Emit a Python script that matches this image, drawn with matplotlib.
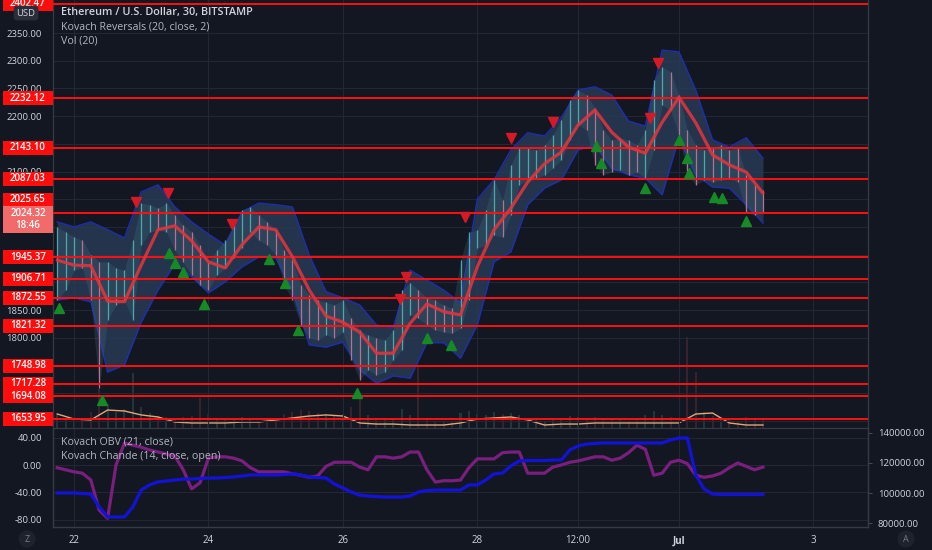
import numpy as np
import pandas as pd
import matplotlib.pyplot as plt
from matplotlib.patches import Rectangle
from matplotlib.transforms import blended_transform_factory

plt.rcParams['font.family'] = ['Open Sans', 'DejaVu Sans']

BG = '#131722'
GRID = '#232733'
TXT = '#d1d4dc'

# ETH/USD, Bitstamp, 3-hour highs / lows
bar_times = pd.date_range('2021-06-21 18:00', periods=85, freq='3h')
bar_high = np.array([
    2000, 1991, 1982, 1976, 1950, 1937, 1937, 1926, 1922, 1976,
    2043, 2040, 2034, 2043, 2021, 2003, 1991, 1967, 1936, 1958,
    1976, 2003, 2031, 2036, 2021, 2009, 1994, 1958, 1940, 1895,
    1877, 1868, 1864, 1859, 1868, 1835, 1814, 1805, 1800, 1796,
    1814, 1886, 1899, 1886, 1872, 1868, 1859, 1853, 1940, 1991,
    1994, 2031, 2085, 2049, 2112, 2142, 2142, 2139, 2148, 2166,
    2193, 2229, 2247, 2238, 2215, 2175, 2157, 2160, 2157, 2148,
    2175, 2265, 2289, 2280, 2238, 2175, 2148, 2139, 2142, 2148,
    2139, 2142, 2094, 2076, 2067])
bar_low = np.array([
    1868, 1886, 1922, 1926, 1868, 1709, 1832, 1859, 1868, 1832,
    1967, 1991, 1994, 1991, 1958, 1936, 1913, 1895, 1886, 1913,
    1926, 1944, 1962, 1991, 1976, 1967, 1950, 1895, 1868, 1823,
    1800, 1796, 1805, 1800, 1810, 1760, 1724, 1742, 1733, 1738,
    1760, 1778, 1841, 1835, 1823, 1814, 1810, 1808, 1817, 1868,
    1962, 1967, 1985, 1982, 2021, 2076, 2085, 2088, 2094, 2106,
    2121, 2157, 2184, 2175, 2112, 2094, 2099, 2103, 2094, 2099,
    2088, 2139, 2220, 2211, 2166, 2094, 2076, 2085, 2081, 2085,
    2088, 2081, 2027, 2021, 2027])
volume = np.array([
    1200, 900, 800, 900, 1500, 3600, 2200, 1500, 1800, 5100,
    2000, 1400, 1100, 1000, 900, 1000, 1100, 2800, 1300, 900,
    800, 900, 1000, 800, 700, 800, 900, 1300, 1500, 1700,
    1600, 1400, 1300, 1200, 1300, 2000, 3100, 1200, 900, 800,
    900, 1800, 1200, 5900, 900, 700, 600, 700, 1400, 1600,
    1300, 1200, 1500, 1300, 1400, 1200, 900, 800, 700, 800,
    900, 1100, 1000, 900, 1000, 900, 800, 800, 700, 800,
    1200, 1600, 1200, 1000, 900, 8500, 5200, 1500, 1100, 900,
    800, 700, 1000, 900, 800])

# Kovach Reversals band and average, volume MA (6-hour samples)
ind_times = pd.date_range('2021-06-21 18:00', periods=43, freq='6h')
rev_ma = [1940, 1931, 1930, 1866, 1865, 1931, 1995, 2002, 1975, 1937,
          1926, 1968, 2000, 1995, 1946, 1886, 1839, 1828, 1810, 1772,
          1772, 1826, 1861, 1847, 1841, 1928, 1995, 2034, 2081, 2114,
          2135, 2184, 2211, 2171, 2144, 2133, 2189, 2234, 2188, 2130,
          2112, 2099, 2061]
band_up = [2009, 2000, 2009, 1995, 1980, 2063, 2076, 2036, 2009, 1987,
           1967, 2027, 2043, 2040, 2036, 1949, 1883, 1872, 1859, 1823,
           1818, 1922, 1904, 1886, 1863, 2050, 2085, 2139, 2170, 2164,
           2197, 2247, 2253, 2238, 2191, 2182, 2319, 2316, 2247, 2157,
           2144, 2161, 2124]
band_lo = [1868, 1872, 1865, 1738, 1751, 1828, 1886, 1933, 1910, 1881,
           1901, 1928, 1946, 1944, 1886, 1787, 1783, 1792, 1742, 1718,
           1731, 1727, 1791, 1791, 1763, 1823, 1937, 1955, 2040, 2070,
           2085, 2139, 2148, 2106, 2094, 2088, 2058, 2161, 2094, 2072,
           2070, 2040, 2007]
vol_ma = [1310, 840, 750, 1680, 1590, 1220, 1030, 560, 470, 470,
          470, 560, 560, 750, 940, 1120, 1220, 1120, 470, 370,
          370, 280, 280, 280, 470, 840, 940, 1030, 750, 280,
          370, 370, 470, 470, 470, 470, 470, 470, 1310, 1400,
          470, 280, 280]

# reversal signals
sell_times = pd.to_datetime(['2021-06-22 22:00', '2021-06-23 09:30', '2021-06-24 08:30',
                             '2021-06-26 20:30', '2021-06-26 22:30', '2021-06-27 19:30',
                             '2021-06-28 12:00', '2021-06-29 03:00', '2021-06-30 13:30',
                             '2021-06-30 16:30'])
sell_price = [2045, 2061, 2005, 1870, 1910, 2018, 2161, 2189, 2197, 2296]
buy_times = pd.to_datetime(['2021-06-21 18:30', '2021-06-22 10:00', '2021-06-23 10:00',
                            '2021-06-23 12:00', '2021-06-23 15:00', '2021-06-23 22:30',
                            '2021-06-24 21:30', '2021-06-25 03:30', '2021-06-25 08:00',
                            '2021-06-26 05:00', '2021-06-27 06:00', '2021-06-27 14:30',
                            '2021-06-29 18:30', '2021-06-29 20:00', '2021-06-30 12:00',
                            '2021-07-01 00:00', '2021-07-01 03:00', '2021-07-01 03:30',
                            '2021-07-01 12:30', '2021-07-01 15:30', '2021-07-02 00:00'])
buy_price = [1854, 1688, 1953, 1935, 1919, 1861, 1942, 1899, 1814, 1700, 1800, 1787,
             2146, 2115, 2070, 2157, 2124, 2097, 2054, 2052, 2011]

levels = [2402.47, 2232.12, 2143.10, 2087.03, 2025.65, 1945.37, 1906.71,
          1872.55, 1821.32, 1748.98, 1717.28, 1694.08, 1653.95]
last_price = 2024.32
countdown = '18:46'

# price scale ticks; the ones hidden behind level labels carry no text
price_ticks = [1650, 1700, 1750, 1800, 1850, 1900, 1950, 2000,
               2050, 2100, 2150, 2200, 2250, 2300, 2350]
price_tick_labels = ['', '', '', '1800.00', '1850.00', '', '', '',
                     '', '2100.00', '', '2200.00', '2250.00', '2300.00', '2350.00']

# lower pane, 3-hour samples
chande = [-4, -7, -10, -12, -22, -66, -78, 0, 32, 29,
          26, 22, 19, 16, 13, -7, -35, -26, 10, 12,
          12, 10, 6, -4, -10, -10, -10, -10, -13, -15,
          -18, -16, -2, 4, 4, 4, -3, -7, 12, 12,
          10, 12, 19, 19, -7, -25, -23, -23, -22, -4,
          9, 9, 9, 18, 19, 19, -12, -12, -12, -3,
          0, 4, 6, 9, 12, 12, 7, 10, 18, 29,
          23, -15, -12, 4, 7, 2, -15, -18, -16, -12,
          -4, 3, -2, -7, -3]
obv = [100100, 100100, 100100, 99700, 99400, 90800, 84200, 84200, 84200, 90800,
       102000, 105400, 107400, 108000, 108700, 109300, 109300, 109700, 110000, 110000,
       110300, 110700, 111300, 112000, 112000, 112000, 112000, 112300, 112700, 112000,
       110700, 110300, 110000, 106000, 103400, 100700, 98700, 98100, 97700, 97400,
       97400, 97400, 98100, 100700, 101700, 102000, 102000, 102000, 102000, 105400,
       105400, 108700, 112700, 113300, 118000, 121300, 121600, 121600, 121600, 121900,
       121900, 128500, 131200, 132500, 132900, 133200, 133200, 133200, 133200, 133200,
       133200, 133200, 133200, 135200, 136500, 136500, 112000, 102700, 99400, 99100,
       99100, 99100, 99100, 99100, 99100]

x_ticks = pd.to_datetime(['2021-06-22 00:00', '2021-06-24 00:00', '2021-06-26 00:00',
                          '2021-06-28 00:00', '2021-06-29 12:00', '2021-07-01 00:00',
                          '2021-07-03 00:00'])
x_labels = ['22', '24', '26', '28', '12:00', 'Jul', '3']


fig = plt.figure(figsize=(9.32, 5.5), dpi=100, facecolor=BG)
ax = fig.add_axes([53/932, 1-428/550, 815/932, 428/550])
axb = fig.add_axes([53/932, 1-527/550, 815/932, 99/550], sharex=ax)

# volume behind the price pane
axv = ax.twinx()
axv.set_zorder(1)
ax.set_zorder(2)
ax.patch.set_alpha(0)
axv.set_facecolor(BG)
axv.set_ylim(0, 40000)
mid = (bar_high + bar_low) / 2
up = np.r_[True, mid[1:] >= mid[:-1]]
axv.bar(bar_times, volume, width=0.03, color=np.where(up, '#27393d', '#3a2530'), alpha=0.9)
axv.plot(ind_times, vol_ma, color='#e3a676', lw=1)
axv.set_yticks([])
for s in axv.spines.values():
    s.set_visible(False)

ax.fill_between(ind_times, band_lo, band_up, color='#283a55', alpha=0.85, lw=0, zorder=1)
ax.plot(ind_times, band_up, color='#1d2fb0', lw=1, zorder=1.5)
ax.plot(ind_times, band_lo, color='#1d2fb0', lw=1, zorder=1.5)

ax.fill_between(bar_times, bar_low, bar_high, color='#4a7f8c', alpha=0.22, lw=0, zorder=2)
ax.vlines(bar_times[up], bar_low[up], bar_high[up], color='#4ea7aa', lw=0.9, zorder=3)
ax.vlines(bar_times[~up], bar_low[~up], bar_high[~up], color='#b9708f', lw=0.9, zorder=3)

for lv in levels:
    ax.axhline(lv, color='#ff1010', lw=1.4, zorder=4)

ax.plot(ind_times, rev_ma, color='#e0343c', lw=2.3, alpha=0.9, zorder=5, solid_capstyle='round')
ax.plot(sell_times, sell_price, 'v', color='#d51a25', ms=6.5, zorder=6)
ax.plot(buy_times, buy_price, '^', color='#158a25', ms=6.5, zorder=6)

ax.set_ylim(1637, 2409.6)
ax.set_xlim(pd.Timestamp('2021-06-21 16:30'), pd.Timestamp('2021-07-03 19:30'))
ax.set_yticks(price_ticks)
ax.set_yticklabels(price_tick_labels)
ax.tick_params(axis='y', length=0, pad=8, labelsize=6.8, labelcolor=TXT)
ax.tick_params(axis='x', length=0, labelbottom=False)
ax.set_xticks(x_ticks)
ax.grid(True, color=GRID, lw=0.8)
ax.set_axisbelow(True)

# lower pane
axb.set_facecolor(BG)
axb.plot(bar_times, chande, color='#7a1f7e', lw=2.3, zorder=3)
axb.set_ylim(-90.8, 54.2)
axb.set_yticks([40, 0, -40, -80])
axb.set_yticklabels(['40.00', '0.00', '-40.00', '-80.00'])
axb.tick_params(axis='y', length=0, pad=8, labelsize=6.8, labelcolor=TXT)
axb.set_xticks(x_ticks)
axb.set_xticklabels(x_labels)
axb.tick_params(axis='x', length=0, pad=6, labelsize=7, labelcolor=TXT)
axb.get_xticklabels()[5].set_fontweight('bold')
axb.grid(True, color=GRID, lw=0.8)

axr = axb.twinx()
axr.plot(bar_times, obv, color='#1212d8', lw=2.3, zorder=3)
axr.set_ylim(77550, 143110)
axr.set_yticks([140000, 120000, 100000, 80000])
axr.set_yticklabels(['140000.00', '120000.00', '100000.00', '80000.00'])
axr.tick_params(axis='y', length=3, width=0.6, color='#50535e', pad=4, labelsize=6.8, labelcolor=TXT)

for a in (ax, axb, axr):
    for s in a.spines.values():
        s.set_color('#363a45')
        s.set_linewidth(0.9)
ax.spines['top'].set_visible(False)
axb.spines['top'].set_visible(False)
axr.spines['top'].set_visible(False)

# price labels on the left scale
fig.canvas.draw()
px = (2409.6 - 1637) / 428
tr = blended_transform_factory(fig.transFigure, ax.transData)
for lv in levels:
    yc = lv + 13 * px if lv == 2025.65 else lv
    fig.add_artist(Rectangle((3/932, yc - 7*px), 50/932, 14*px, transform=tr,
                             facecolor='#ff0d0d', edgecolor='none', zorder=5, clip_on=False))
    fig.text(28/932, yc, f'{lv:.2f}', transform=tr, ha='center', va='center',
             color='white', fontsize=7, fontweight='semibold', zorder=6)
fig.add_artist(Rectangle((3/932, last_price - 20*px), 50/932, 27*px, transform=tr,
                         facecolor='#f26a6a', edgecolor='none', zorder=5, clip_on=False))
fig.text(28/932, last_price, f'{last_price:.2f}', transform=tr, ha='center', va='center',
         color='white', fontsize=7, fontweight='semibold', zorder=6)
fig.text(40/932, last_price - 12.5*px, countdown, transform=tr, ha='right', va='center',
         color='white', fontsize=7, fontweight='semibold', zorder=6)

fig.text(26/932, 1-13/550, 'USD', ha='center', va='center', color=TXT, fontsize=6.8, zorder=7,
         bbox=dict(boxstyle='round,pad=0.3', facecolor='#2a2e39', edgecolor='none'))

# legends
fig.text(61/932, 1-13/550, 'Ethereum / U.S. Dollar, 30, BITSTAMP', ha='left', va='center',
         color=TXT, fontsize=7.8, fontweight='semibold')
fig.text(61/932, 1-27/550, 'Kovach Reversals (20, close, 2)', ha='left', va='center',
         color='#b2b5be', fontsize=7.7)
fig.text(61/932, 1-41/550, 'Vol (20)', ha='left', va='center', color='#b2b5be', fontsize=7.7)
fig.text(61/932, 1-442/550, 'Kovach OBV (21, close)', ha='left', va='center',
         color='#b2b5be', fontsize=7.7)
fig.text(61/932, 1-456/550, 'Kovach Chande (14, close, open)', ha='left', va='center',
         color='#b2b5be', fontsize=7.7)

fig.text(27/932, 1-539/550, 'Z', ha='center', va='center', color='#787b86', fontsize=6.5,
         bbox=dict(boxstyle='circle,pad=0.45', facecolor='#1e222d', edgecolor='none'))
fig.text(906/932, 1-539/550, 'A', ha='center', va='center', color='#787b86', fontsize=6.5,
         bbox=dict(boxstyle='circle,pad=0.45', facecolor='#1e222d', edgecolor='none'))

fig.savefig('out.png', dpi=100, facecolor=BG)
